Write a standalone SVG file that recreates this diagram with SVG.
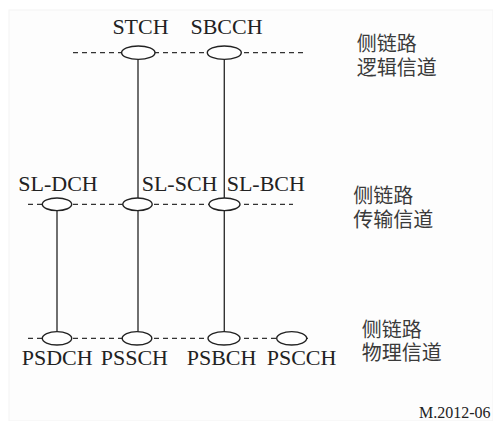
<svg xmlns="http://www.w3.org/2000/svg" width="493" height="421" viewBox="0 0 493 421">
<style>
.lbl{font-family:"Liberation Serif","Times New Roman",serif;font-size:22px;fill:#222}
.cn{font-family:"Liberation Sans","Noto Sans CJK SC",sans-serif;font-size:20px;fill:#3a3a3a}
.dash{stroke:#333;stroke-width:1.3;stroke-dasharray:5,4;fill:none}
.node{fill:#fff;stroke:#222;stroke-width:1.4}
.link{stroke:#333;stroke-width:1.4;fill:none}
.note{font-family:"Liberation Serif","Times New Roman",serif;font-size:16px;fill:#222}
</style>
<rect x="0" y="0" width="493" height="421" fill="#fff"/>
<rect x="9" y="10" width="484" height="411" fill="#fdfdfd" stroke="#f3f3f3" stroke-width="1"/>
<g id="levels">
<line class="dash" x1="73" y1="52.7" x2="307" y2="52.7"/>
<line class="dash" x1="28" y1="204.3" x2="293" y2="204.3"/>
<line class="dash" x1="28" y1="338.3" x2="308" y2="338.3"/>
</g>
<g id="connectors">
<line class="link" x1="138" y1="59" x2="138" y2="332"/>
<line class="link" x1="224.3" y1="59" x2="224.3" y2="332"/>
<line class="link" x1="57" y1="210.5" x2="57" y2="332"/>
</g>
<g id="STCH"><ellipse class="node" cx="138.3" cy="52.7" rx="16.7" ry="6.7"/><text class="lbl" x="140.5" y="34" text-anchor="middle">STCH</text></g>
<g id="SBCCH"><ellipse class="node" cx="224.3" cy="52.7" rx="17" ry="6.7"/><text class="lbl" x="226.5" y="34" text-anchor="middle">SBCCH</text></g>
<g id="SL-DCH"><ellipse class="node" cx="57" cy="204.3" rx="14.7" ry="6.3"/><text class="lbl" x="18.3" y="190.7">SL-DCH</text></g>
<g id="SL-SCH"><ellipse class="node" cx="137.5" cy="204.3" rx="14.7" ry="6.3"/><text class="lbl" x="141.7" y="190.7">SL-SCH</text></g>
<g id="SL-BCH"><ellipse class="node" cx="224.5" cy="204.3" rx="15.5" ry="6.3"/><text class="lbl" x="226.7" y="190.7">SL-BCH</text></g>
<g id="PSDCH"><ellipse class="node" cx="57" cy="338.3" rx="14.7" ry="6.7"/><text class="lbl" x="21.7" y="365">PSDCH</text></g>
<g id="PSSCH"><ellipse class="node" cx="137" cy="338.3" rx="14.8" ry="6.7"/><text class="lbl" x="100.7" y="365">PSSCH</text></g>
<g id="PSBCH"><ellipse class="node" cx="224" cy="338.3" rx="16" ry="6.7"/><text class="lbl" x="186.7" y="365">PSBCH</text></g>
<g id="PSCCH"><ellipse class="node" cx="291.7" cy="338.3" rx="15" ry="6.7"/><text class="lbl" x="266.7" y="365">PSCCH</text></g>
<g id="legend">
<text class="cn" x="356.7" y="51">侧链路</text>
<text class="cn" x="356.7" y="74.5">逻辑信道</text>
<text class="cn" x="353.3" y="202.8">侧链路</text>
<text class="cn" x="353.3" y="226.8">传输信道</text>
<text class="cn" x="361.7" y="336.8">侧链路</text>
<text class="cn" x="361.7" y="360.2">物理信道</text>
</g>
<text class="note" x="490.5" y="418" text-anchor="end">M.2012-06</text>
</svg>
